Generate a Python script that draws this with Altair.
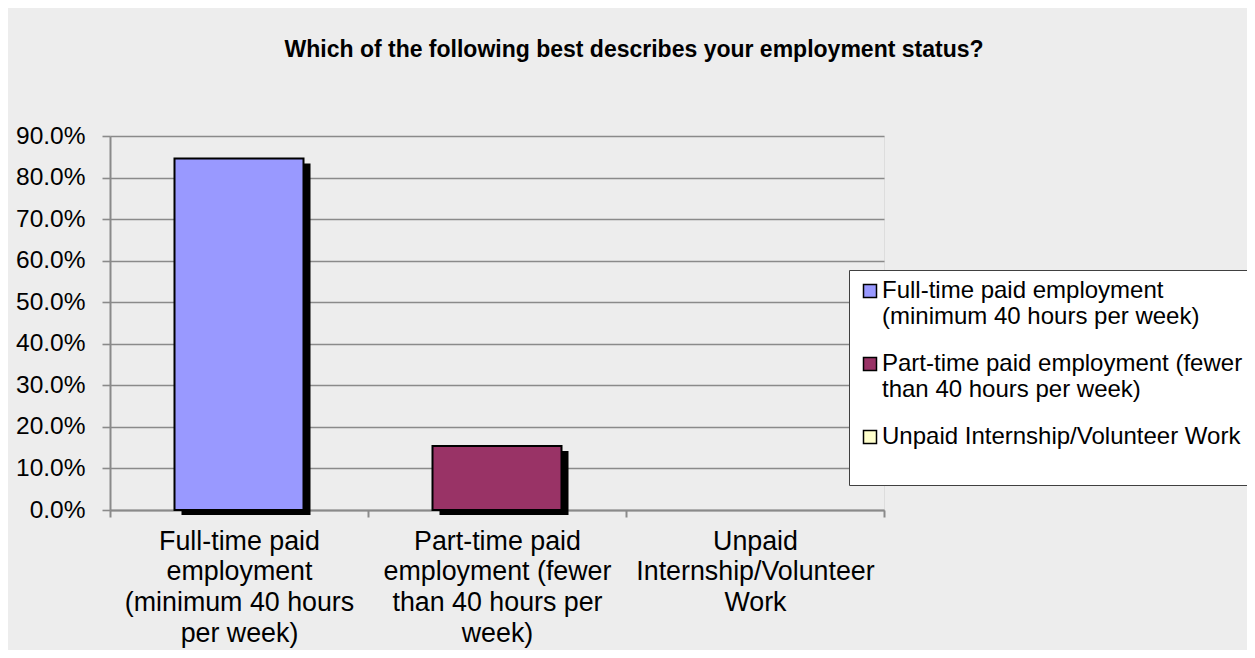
import json
import altair as alt
import pandas as pd

# ---------------- data ----------------
categories = [
    "Full-time paid employment (minimum 40 hours per week)",
    "Part-time paid employment (fewer than 40 hours per week)",
    "Unpaid Internship/Volunteer Work",
]
values = [0.846, 0.154, 0.0]
colors = ["#9999FF", "#993366", "#FFFFCC"]

axis_lines = [
    ["Full-time paid", "employment", "(minimum 40 hours", "per week)"],
    ["Part-time paid", "employment (fewer", "than 40 hours per", "week)"],
    ["Unpaid", "Internship/Volunteer", "Work"],
]
legend_lines = [
    ["Full-time paid employment", "(minimum 40 hours per week)"],
    ["Part-time paid employment (fewer", "than 40 hours per week)"],
    ["Unpaid Internship/Volunteer Work"],
]
y_ticks = [0.0, 0.1, 0.2, 0.3, 0.4, 0.5, 0.6, 0.7, 0.8, 0.9]
title_text = "Which of the following best describes your employment status?"

df = pd.DataFrame({"category": categories, "value": values})


def label_expr(lines_list):
    expr = "datum.label"
    for cat, lines in reversed(list(zip(categories, lines_list))):
        expr = f"datum.label == {json.dumps(cat)} ? {json.dumps(lines)} : ({expr})"
    return expr


FONT = "Liberation Sans"
GRID = "#8a8a8a"

x_enc = alt.X(
    "category:N",
    sort=categories,
    scale=alt.Scale(domain=categories, paddingInner=0, paddingOuter=0),
    axis=alt.Axis(
        title=None,
        labelAngle=0,
        labelExpr=label_expr(axis_lines),
        tickBand="extent",
        tickSize=7,
        tickWidth=2,
        tickColor=GRID,
        domainColor=GRID,
        domainWidth=2,
        grid=False,
        labelFontSize=26.8,
        labelLineHeight=30.7,
        labelBaseline="top",
        labelPadding=11,
        labelLimit=500,
        labelOverlap=False,
        labelColor="black",
        labelFont=FONT,
    ),
)

y_enc = alt.Y(
    "value:Q",
    scale=alt.Scale(domain=[0, 0.9], nice=False, zero=True),
    axis=alt.Axis(
        title=None,
        values=y_ticks,
        format=".1%",
        grid=True,
        gridColor=GRID,
        gridWidth=1.6,
        tickSize=8,
        tickWidth=1.6,
        tickColor=GRID,
        domainColor=GRID,
        domainWidth=2,
        labelPadding=17,
        labelFontSize=24.5,
        labelColor="black",
        labelFont=FONT,
    ),
)

base = alt.Chart(df).transform_filter("datum.value > 0")

shadow = base.mark_bar(
    color="black",
    xOffset=7,
    x2Offset=7,
    yOffset=5,
    width=alt.RelativeBandSize(0.5),
).encode(x=x_enc, y=y_enc)

bars = base.mark_bar(
    stroke="black",
    strokeWidth=2,
    width=alt.RelativeBandSize(0.5),
).encode(
    x=x_enc,
    y=y_enc,
    color=alt.Color(
        "category:N",
        scale=alt.Scale(domain=categories, range=colors),
        legend=alt.Legend(
            orient="none",
            legendX=739,
            legendY=134,
            title=" ",
            titleOrient="bottom",
            titleFontSize=22,
            titlePadding=6,
            fillColor="white",
            strokeColor="#404040",
            padding=9,
            rowPadding=23,
            symbolType="square",
            symbolSize=169,
            symbolStrokeColor="black",
            symbolStrokeWidth=1.5,
            symbolOpacity=1,
            labelExpr=label_expr(legend_lines),
            labelFontSize=24,
            labelLimit=500,
            labelOffset=0,
            labelColor="black",
            labelFont=FONT,
        ),
    ),
)

chart = (
    alt.layer(shadow, bars)
    .properties(
        width=774,
        height=374,
        autosize="none",
        padding={"left": 102, "top": 128, "right": 363, "bottom": 140},
        background="#ededed",
        title=alt.TitleParams(
            title_text,
            fontSize=23,
            fontWeight="bold",
            font=FONT,
            color="black",
            anchor="middle",
            frame="bounds",
            offset=61,
        ),
    )
    .configure_view(stroke=None)
    .configure(font=FONT)
)

chart.save("out.html", embed_options={"renderer": "svg", "actions": False})
